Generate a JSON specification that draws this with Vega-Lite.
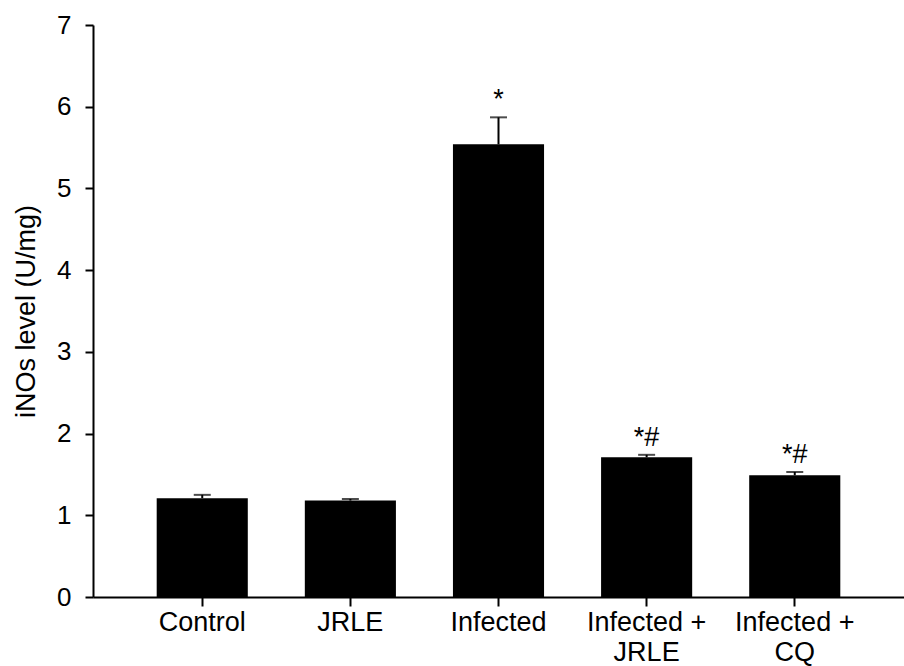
{
  "$schema": "https://vega.github.io/schema/vega-lite/v6.json",
  "autosize": "none",
  "padding": {"left": 93, "top": 25, "right": 0, "bottom": 69},
  "width": 811,
  "height": 572,
  "background": "white",
  "config": {
    "view": {"stroke": null},
    "font": "Liberation Sans"
  },
  "data": {
    "values": [
      {"group": "Control", "value": 1.21, "err": 1.25, "sig": ""},
      {"group": "JRLE", "value": 1.18, "err": 1.2, "sig": ""},
      {"group": "Infected", "value": 5.54, "err": 5.87, "sig": "*"},
      {"group": "Infected + JRLE", "value": 1.71, "err": 1.74, "sig": "*#"},
      {"group": "Infected + CQ", "value": 1.49, "err": 1.53, "sig": "*#"}
    ]
  },
  "encoding": {
    "x": {
      "field": "group",
      "type": "nominal",
      "sort": null,
      "scale": {"paddingInner": 0.385, "paddingOuter": 0.43},
      "axis": {
        "title": null,
        "labelAngle": 0,
        "labelFont": "Liberation Sans",
        "labelFontSize": 27,
        "labelColor": "black",
        "labelPadding": 3,
        "labelLineHeight": 30,
        "labelExpr": "datum.label == 'Infected + JRLE' ? ['Infected +', 'JRLE'] : datum.label == 'Infected + CQ' ? ['Infected +', 'CQ'] : datum.label",
        "domainColor": "black",
        "domainWidth": 2,
        "tickColor": "black",
        "tickWidth": 2,
        "tickSize": 9
      }
    }
  },
  "layer": [
    {
      "mark": {"type": "bar", "color": "black"},
      "encoding": {
        "y": {
          "field": "value",
          "type": "quantitative",
          "scale": {"domain": [0, 7], "nice": false},
          "axis": {
            "title": "iNOs level (U/mg)",
            "titleFont": "Liberation Sans",
            "titleFontSize": 27,
            "titleFontWeight": "normal",
            "titleColor": "black",
            "titlePadding": 16,
            "values": [0, 1, 2, 3, 4, 5, 6, 7],
            "format": "d",
            "labelFont": "Liberation Sans",
            "labelFontSize": 26,
            "labelColor": "black",
            "labelPadding": 14,
            "grid": false,
            "domainColor": "black",
            "domainWidth": 2,
            "tickColor": "black",
            "tickWidth": 2,
            "tickSize": 8
          }
        }
      }
    },
    {
      "mark": {"type": "rule", "color": "black", "strokeWidth": 2},
      "encoding": {
        "y": {"field": "value", "type": "quantitative"},
        "y2": {"field": "err"}
      }
    },
    {
      "mark": {"type": "tick", "color": "black", "thickness": 2, "size": 17},
      "encoding": {
        "y": {"field": "err", "type": "quantitative"}
      }
    },
    {
      "mark": {"type": "text", "color": "black", "fontSize": 27, "baseline": "alphabetic", "dy": -9, "font": "Liberation Sans"},
      "encoding": {
        "y": {"field": "err", "type": "quantitative"},
        "text": {"field": "sig"}
      }
    }
  ]
}
